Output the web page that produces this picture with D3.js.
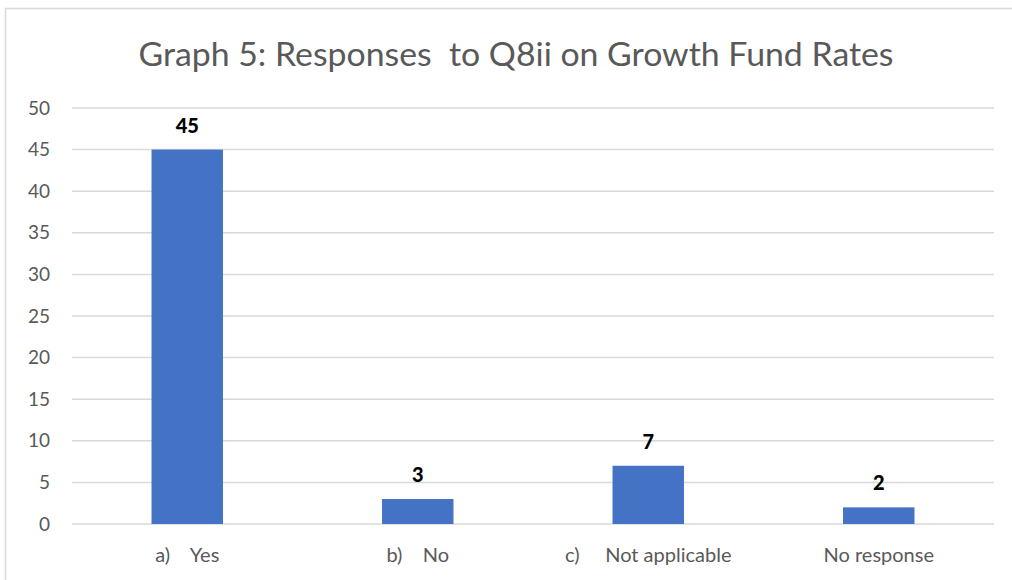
<!DOCTYPE html>
<html>
<head>
<meta charset="utf-8">
<script src="https://cdn.jsdelivr.net/npm/d3@7"></script>
<style>
  body { margin: 0; background: #fff; }
  text { font-family: Lato, "Open Sans", sans-serif; }
</style>
</head>
<body>
<div id="chart"></div>
<script>
// data
const categories = ['a)    Yes', 'b)    No', 'c)     Not applicable', 'No response'];
const responses = [45, 3, 7, 2];
const yTicks = [0, 5, 10, 15, 20, 25, 30, 35, 40, 45, 50];
const title = 'Graph 5: Responses  to Q8ii on Growth Fund Rates';

const width = 1012;
const height = 580;
const margin = { top: 108, right: 18, bottom: 56, left: 72 };

const svg = d3
  .select('#chart')
  .append('svg')
  .attr('width', width)
  .attr('height', height);

// chart border
svg
  .append('rect')
  .attr('x', 5.5)
  .attr('y', 8.5)
  .attr('width', width)
  .attr('height', height)
  .attr('fill', '#fff')
  .attr('stroke', '#d9d9d9')
  .attr('stroke-width', 1.5);

const xScale = d3
  .scaleBand()
  .domain(categories)
  .range([margin.left, width - margin.right])
  .paddingInner(0.69)
  .paddingOuter(0.345);

const yScale = d3
  .scaleLinear()
  .domain([0, 50])
  .range([height - margin.bottom, margin.top]);

// title
svg
  .append('text')
  .attr('x', 516)
  .attr('y', 66)
  .attr('text-anchor', 'middle')
  .attr('fill', '#595959')
  .attr('textLength', 755)
  .attr('lengthAdjust', 'spacingAndGlyphs')
  .style('font-size', '32px')
  .style('white-space', 'pre')
  .text(title);

// gridlines
svg
  .append('g')
  .selectAll('line')
  .data(yTicks)
  .join('line')
  .attr('x1', margin.left)
  .attr('x2', width - margin.right)
  .attr('y1', (d) => yScale(d))
  .attr('y2', (d) => yScale(d))
  .attr('stroke', '#d9d9d9')
  .attr('stroke-width', 1.5);

// y axis
const yAxis = d3.axisLeft(yScale).tickValues(yTicks).tickSize(0).tickPadding(0);
const yAxisGroup = svg
  .append('g')
  .attr('transform', 'translate(50,0)')
  .call(yAxis);
yAxisGroup.select('.domain').remove();
yAxisGroup
  .selectAll('text')
  .attr('fill', '#595959')
  .style('font-size', '19px')
  .style('font-family', 'Lato, sans-serif');

// x axis
const xAxis = d3.axisBottom(xScale).tickSize(0).tickPadding(24);
const xAxisGroup = svg
  .append('g')
  .attr('transform', 'translate(0,' + yScale(0) + ')')
  .call(xAxis);
xAxisGroup.select('.domain').remove();
xAxisGroup
  .selectAll('text')
  .attr('fill', '#595959')
  .style('font-size', '20px')
  .style('font-family', 'Lato, sans-serif')
  .style('white-space', 'pre');

// bars
svg
  .append('g')
  .selectAll('rect')
  .data(responses)
  .join('rect')
  .attr('x', (d, i) => xScale(categories[i]))
  .attr('y', (d) => yScale(d))
  .attr('width', xScale.bandwidth())
  .attr('height', (d) => yScale(0) - yScale(d))
  .attr('fill', '#4472c4');

// value labels
svg
  .append('g')
  .selectAll('text')
  .data(responses)
  .join('text')
  .attr('x', (d, i) => xScale(categories[i]) + xScale.bandwidth() / 2)
  .attr('y', (d) => yScale(d) - 17)
  .attr('text-anchor', 'middle')
  .attr('fill', '#000')
  .style('font-size', '20px')
  .style('font-weight', '900')
  .text((d) => d);
</script>
</body>
</html>
